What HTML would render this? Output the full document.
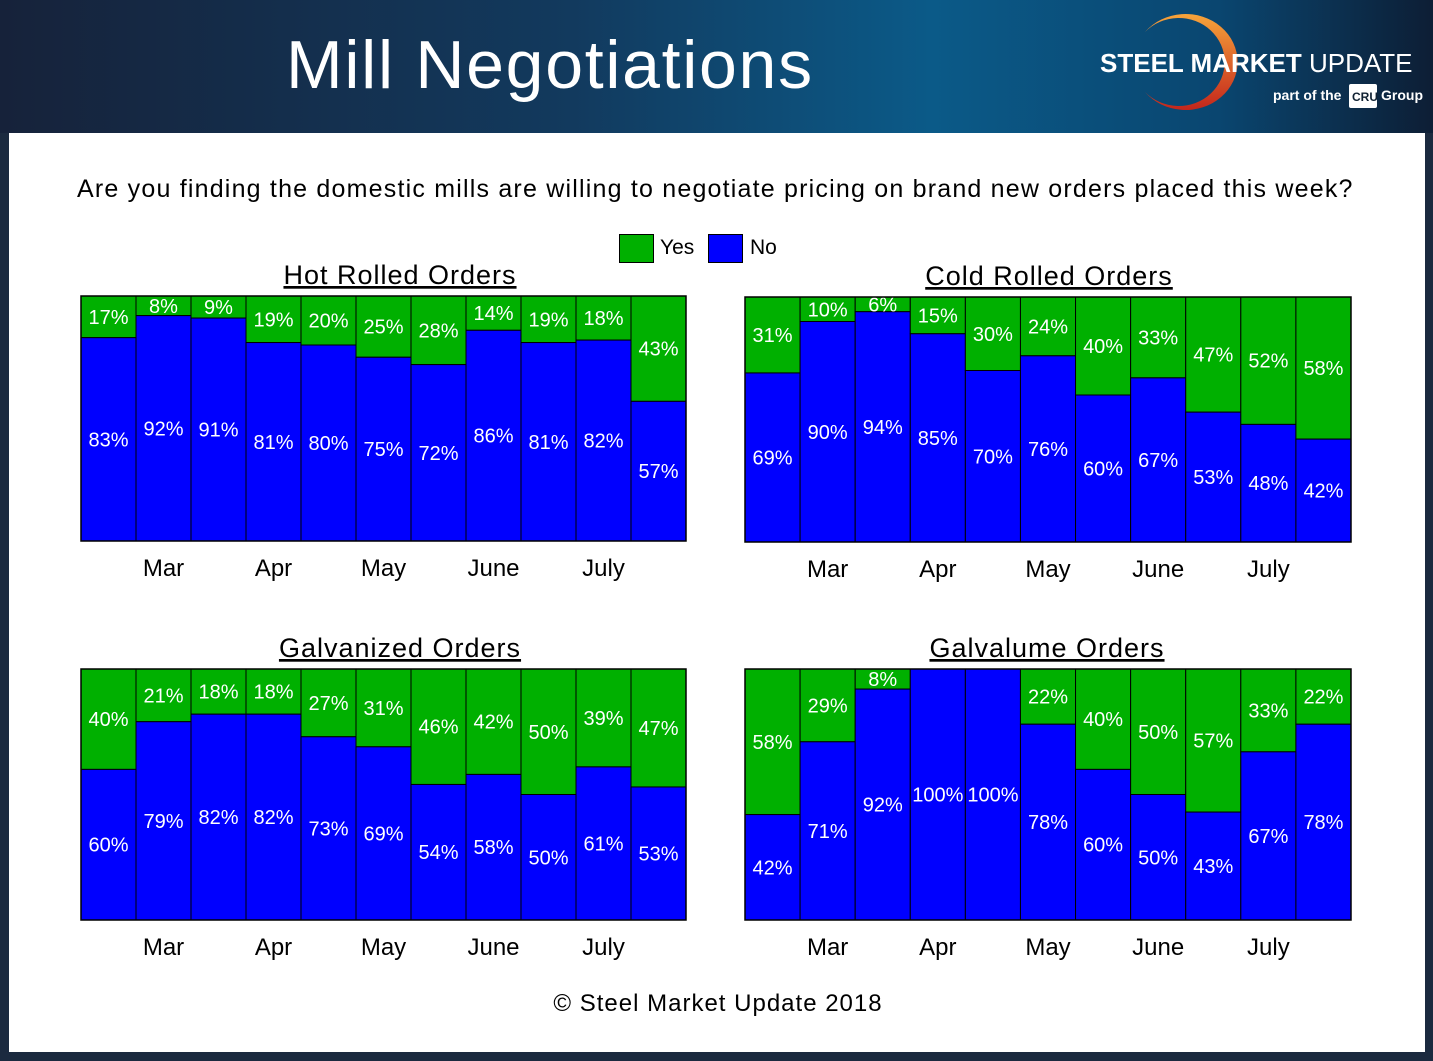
<!DOCTYPE html>
<html><head><meta charset="utf-8">
<style>
body{margin:0;width:1433px;height:1061px;overflow:hidden;background:#1b2a3f;font-family:"Liberation Sans",sans-serif;position:relative}
#hdr{position:absolute;left:0;top:0;width:1433px;height:133px;background:linear-gradient(90deg,#16223a 0%,#123a5e 40%,#0b5a88 65%,#0a4670 85%,#0d1e35 100%)}
#title{position:absolute;left:286px;top:26px;font-size:68px;color:#fff;letter-spacing:1.7px}
#panel{position:absolute;left:9px;top:133px;width:1416px;height:919px;background:#fff}
.t{position:absolute;white-space:nowrap}
svg text{font-family:"Liberation Sans",sans-serif}
</style></head><body>
<div id="hdr">
<div id="title">Mill Negotiations</div>
<svg style="position:absolute;left:1090px;top:10px" width="343" height="110">
<defs><linearGradient id="og" x1="0" y1="0" x2="0" y2="1"><stop offset="0" stop-color="#f7a43a"/><stop offset="1" stop-color="#c4261c"/></linearGradient></defs>
<path d="M55,22 A52,48 0 1 1 55,82 A46,44 0 1 0 55,22 Z" fill="url(#og)"/>
<text x="10" y="62" font-size="26" font-weight="bold" fill="#fff">STEEL MARKET <tspan font-weight="normal">UPDATE</tspan></text>
<text x="183" y="90" font-size="14" font-weight="bold" fill="#fff">part of the</text>
<rect x="259" y="74" width="28" height="24" rx="2" fill="#fff"/>
<text x="262" y="91" font-size="12" font-weight="bold" fill="#123">CRU</text>
<text x="291" y="90" font-size="14" font-weight="bold" fill="#fff">Group</text>
</svg>
</div>
<div id="panel"></div>
<div class="t" style="left:77px;top:175px;font-size:25px;letter-spacing:1.2px;color:#000">Are you finding the domestic mills are willing to negotiate pricing on brand new orders placed this week?</div>
<div class="t" style="left:619px;top:234px;width:33px;height:27px;background:#00b000;border:1px solid #000"></div>
<div class="t" style="left:660px;top:236px;font-size:21px">Yes</div>
<div class="t" style="left:708px;top:234px;width:33px;height:27px;background:#0000ff;border:1px solid #000"></div>
<div class="t" style="left:750px;top:236px;font-size:21px">No</div>
<div class="t" style="left:0;width:1436px;text-align:center;top:990px;font-size:24px;letter-spacing:1px">© Steel Market Update 2018</div>
<svg id="ch" width="1433" height="1061" style="position:absolute;left:0;top:0"></svg>
<script>
const months=["Mar","Apr","May","June","July"];
const monthBarIndex=[1,3,5,7,9];
const hrYes=[17,8,9,19,20,25,28,14,19,18,43];
const crYes=[31,10,6,15,30,24,40,33,47,52,58];
const gvYes=[40,21,18,18,27,31,46,42,50,39,47];
const glYes=[58,29,8,0,0,22,40,50,57,33,22];
const charts=[
 {name:"hot-rolled",title:"Hot Rolled Orders",yes:hrYes,x:81,y:296,w:605,h:245,tc:400},
 {name:"cold-rolled",title:"Cold Rolled Orders",yes:crYes,x:745,y:297,w:606,h:245,tc:1049},
 {name:"galvanized",title:"Galvanized Orders",yes:gvYes,x:81,y:669,w:605,h:251,tc:400},
 {name:"galvalume",title:"Galvalume Orders",yes:glYes,x:745,y:669,w:606,h:251,tc:1047}];
const NS="http://www.w3.org/2000/svg",svg=document.getElementById('ch');
function mk(t,a,txt){const e=document.createElementNS(NS,t);for(const k in a)e.setAttribute(k,a[k]);if(txt!=null)e.textContent=txt;svg.appendChild(e);return e;}
charts.forEach(c=>{
 const n=c.yes.length,bw=c.w/n;
 const xs=i=>c.x+i*bw, ys=v=>c.y+c.h*(v/100);
 const tt=mk('text',{x:c.tc,y:c.y-12,'text-anchor':'middle','font-size':27,'letter-spacing':1,'text-decoration':'underline'},c.title);
 
 
 c.yes.forEach((v,i)=>{
  const no=100-v;
  const g=mk('rect',{x:xs(i),y:c.y,width:bw,height:ys(v)-c.y,fill:'#00b000',stroke:'#000','stroke-width':1});
  
  
  const b=mk('rect',{x:xs(i),y:ys(v),width:bw,height:c.y+c.h-ys(v),fill:'#0000ff',stroke:'#000','stroke-width':1});
  
  
  if(v>0){const l=mk('text',{x:xs(i)+bw/2,y:(c.y+ys(v))/2+7,'text-anchor':'middle','font-size':20,fill:'#fff'},v+'%');
   
   }
  const l2=mk('text',{x:xs(i)+bw/2,y:(ys(v)+c.y+c.h)/2+7,'text-anchor':'middle','font-size':20,fill:'#fff'},no+'%');
  
  
 });
 const fr=mk('rect',{x:c.x,y:c.y,width:c.w,height:c.h,fill:'none',stroke:'#000','stroke-width':1.5});
 
 
 months.forEach((m,k)=>{
  const t=mk('text',{x:xs(monthBarIndex[k])+bw/2,y:c.y+c.h+35,'text-anchor':'middle','font-size':24},m);
  
  
 });
});
</script>
</body></html>
